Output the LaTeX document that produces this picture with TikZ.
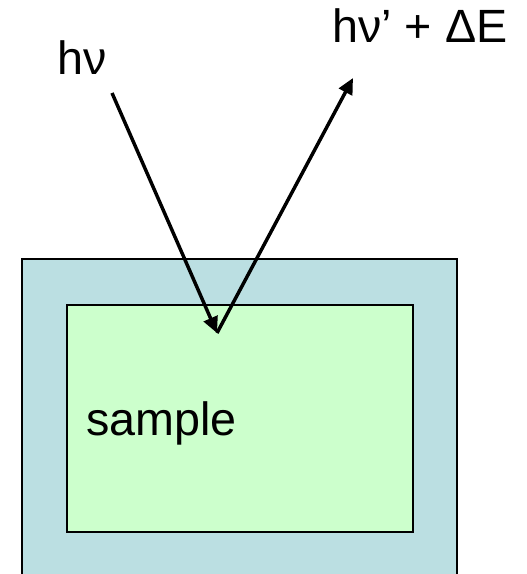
\documentclass[tikz,border=0pt]{standalone}
\usepackage{fontspec}
\setmainfont{Liberation Sans}
\usepackage{xcolor}
\usetikzlibrary{arrows.meta, positioning}
\definecolor{holder}{HTML}{BBDFE2}
\definecolor{samplegreen}{HTML}{CCFFCC}
\tikzstyle{label} = [inner sep=0pt, anchor=base west,
font=\fontsize{35}{40}\selectfont]
\tikzstyle{photon} = [line width=2.6pt, -{Triangle[length=12pt, width=11pt]}]

\begin{document}
\begin{tikzpicture}[
        x=0.75pt, y=-0.75pt,
        % Estilo para los rectangulos
        box/.style={draw=black, inner sep=0pt, anchor=north west},
    ]
        \useasboundingbox (0,0) rectangle (526,574);

        % 1. Soporte (cortado por abajo)
        \fill[holder] (22,259) rectangle (457,574);
        \draw[line width=1pt] (22,574) -- (22,259) -- (457,259) -- (457,574);

        % 2. Muestra
        \node (sample) [box, fill=samplegreen, line width=1.3pt,
            minimum width=346*0.75pt, minimum height=227*0.75pt] at (66,304) {};
        \node (name) [label] at (86,435) {sample};

        % 3. Fotones
        \coordinate (src) at (112,93);
        \coordinate (hit) at (217,333);
        \coordinate (dst) at (353,78);
        \node (inlabel) [label] at (57,75) {hν};
        \node (outlabel) [label] at (332,43) {hν’ + ΔE};

        \draw[photon] (src) -- (hit);
        \draw[photon] (hit) -- (dst);
    \end{tikzpicture}
\end{document}
